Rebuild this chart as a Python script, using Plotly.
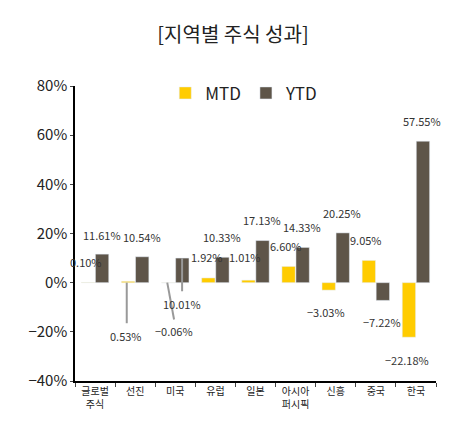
import plotly.graph_objects as go

categories = ["글로벌<br>주식", "선진", "미국", "유럽", "일본", "아시아<br>퍼시픽", "신흥", "중국", "한국"]
mtd = [0.10, 0.53, -0.06, 1.92, 1.01, 6.60, -3.03, 9.05, -22.18]
ytd = [11.61, 10.54, 10.01, 10.33, 17.13, 14.33, 20.25, -7.22, 57.55]
y_ticks = [-40, -20, 0, 20, 40, 60, 80]

# label placements (x in category units, y in data units)
mtd_pos = [(-0.22, 8.5), (0.78, -21.5), (1.97, -19.5), (2.8, 10.6), (3.75, 10.6),
           (4.77, 15.0), (5.76, -11.8), (6.76, 17.5), (7.78, -31.3)]
ytd_pos = [(0.17, 19.5), (1.17, 18.7), (2.17, -8.5), (3.17, 18.7), (4.17, 25.6),
           (5.17, 22.8), (6.16, 28.5), (7.16, -15.9), (8.16, 65.9)]

fig = go.Figure()
fig.add_bar(name="MTD", x=categories, y=mtd, marker_color="#FFCC00")
fig.add_bar(name="YTD", x=categories, y=ytd, marker_color="#5E5549")

ann = []
for v, (px, py) in zip(mtd, mtd_pos):
    ann.append(dict(x=px, y=py, text=f"{v:.2f}%".replace("-", "−"), showarrow=False))
for v, (px, py) in zip(ytd, ytd_pos):
    ann.append(dict(x=px, y=py, text=f"{v:.2f}%".replace("-", "−"), showarrow=False))
for a in ann:
    a.update(xref="x", yref="y", font=dict(size=11, color="#333"))

shapes = [
    dict(type="line", xref="x", yref="y", x0=0.79, x1=0.79, y0=0, y1=-16.5, line=dict(color="#999", width=2)),
    dict(type="line", xref="x", yref="y", x0=1.8, x1=1.97, y0=0, y1=-15, line=dict(color="#999", width=2)),
    dict(type="line", xref="x", yref="y", x0=2.17, x1=2.17, y0=10, y1=-3.5, line=dict(color="#999", width=2)),
]

fig.update_layout(
    width=450, height=422,
    margin=dict(l=67, r=22, t=78, b=49),
    paper_bgcolor="white", plot_bgcolor="white",
    barmode="group", bargap=0.3, bargroupgap=0.05,
    font=dict(family="Noto Sans CJK KR", color="#222"),
    title=dict(text="[지역별 주식 성과]", x=0.5, xanchor="center", y=0.935, yanchor="middle",
               font=dict(size=20, color="#222")),
    legend=dict(orientation="h", x=0.25, y=0.975, xanchor="left", yanchor="middle",
                font=dict(size=17), itemwidth=30, bgcolor="rgba(0,0,0,0)"),
    annotations=ann, shapes=shapes,
)
fig.update_xaxes(showline=True, linecolor="black", linewidth=1.5, ticks="outside",
                 tickson="boundaries", ticklen=4, tickfont=dict(size=10), automargin=False,
                 range=[-0.5, 8.5])
fig.update_yaxes(range=[-40, 80], tickvals=y_ticks, ticktext=[f"{t}%".replace("-", "−") for t in y_ticks],
                 showline=True, linecolor="black", linewidth=1.5, ticks="outside", ticklen=3,
                 showgrid=False, zeroline=False, tickfont=dict(size=15), automargin=False)
fig.write_html("out.html")
